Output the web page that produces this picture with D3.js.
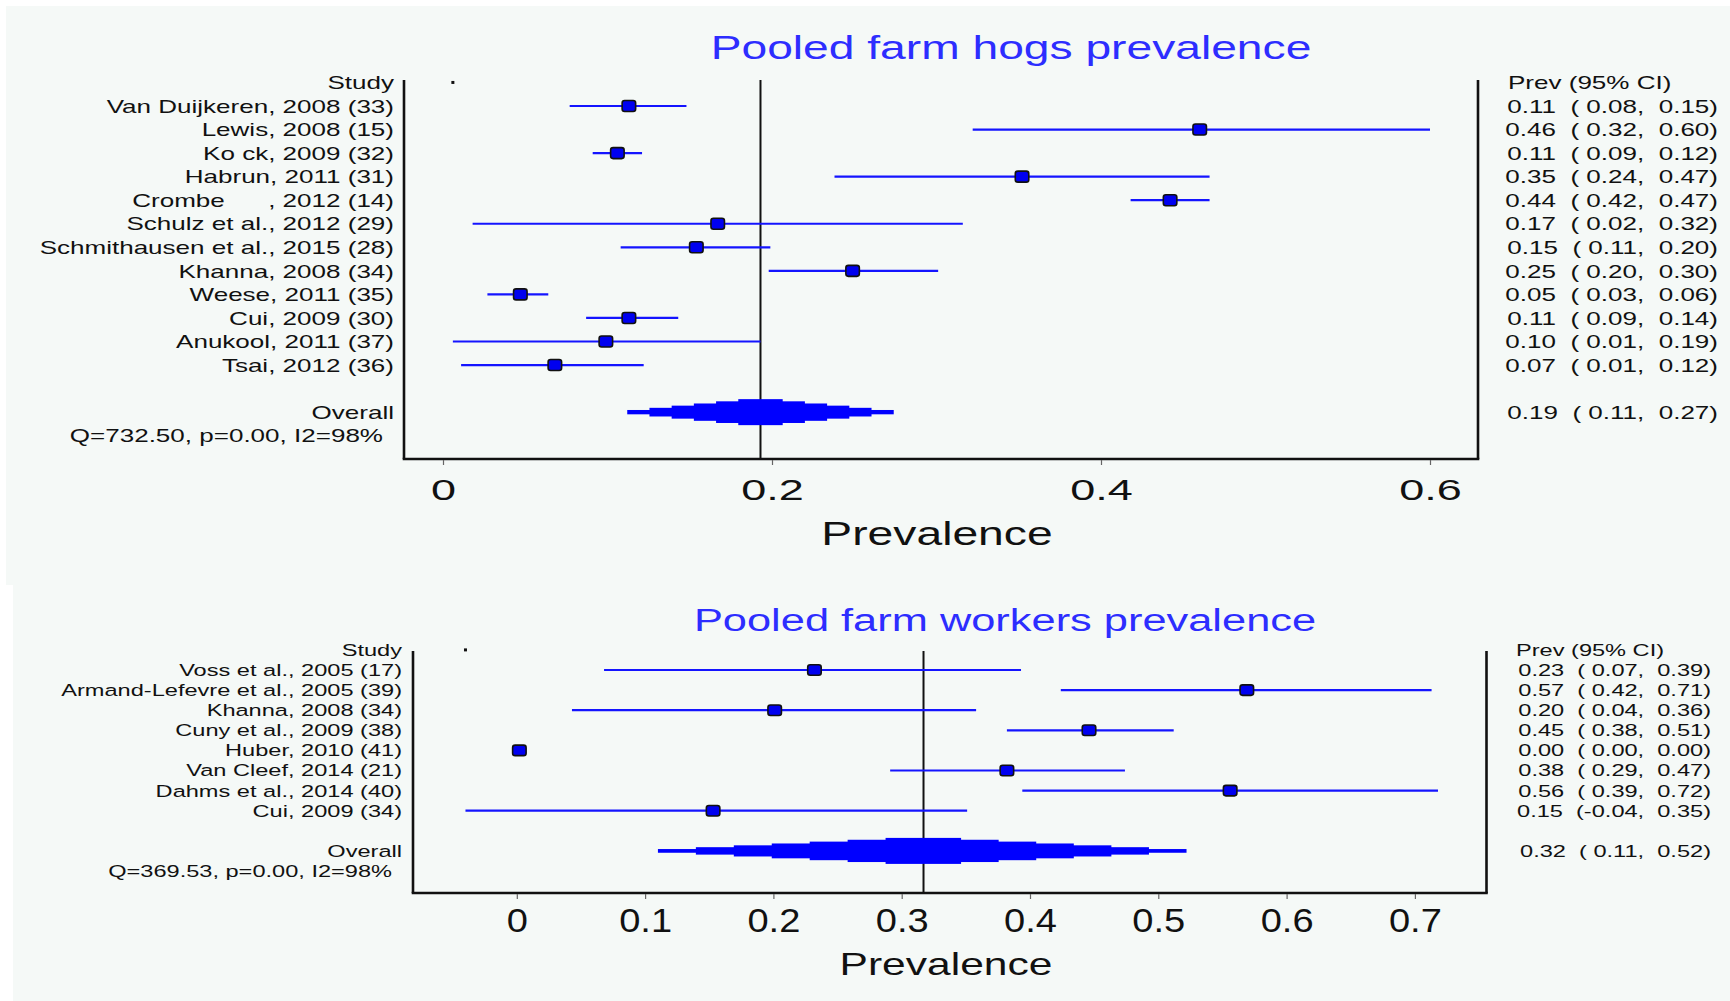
<!DOCTYPE html>
<html><head><meta charset="utf-8">
<script src="https://cdn.jsdelivr.net/npm/d3@7"></script>
<style>
html,body{margin:0;padding:0;background:#ffffff;}
svg{display:block;}
text{font-family:"Liberation Sans", Arial, Helvetica, sans-serif; white-space:pre;}
</style></head><body>
<svg id="chart" width="1730" height="1001"></svg>
<script>
// ---------------- DATA ----------------
const hogTitle = "Pooled farm hogs prevalence";
const hogStudies = ["Van Duijkeren, 2008 (33)", "Lewis, 2008 (15)", "Ko ck, 2009 (32)", "Habrun, 2011 (31)",
  "Crombe      , 2012 (14)", "Schulz et al., 2012 (29)", "Schmithausen et al., 2015 (28)", "Khanna, 2008 (34)",
  "Weese, 2011 (35)", "Cui, 2009 (30)", "Anukool, 2011 (37)", "Tsai, 2012 (36)"];
const hogPrev  = [0.113, 0.460, 0.106, 0.352, 0.442, 0.167, 0.154, 0.249, 0.047, 0.113, 0.099, 0.068];
const hogLower = [0.077, 0.322, 0.091, 0.238, 0.418, 0.018, 0.108, 0.198, 0.027, 0.087, 0.006, 0.011];
const hogUpper = [0.148, 0.600, 0.121, 0.466, 0.466, 0.316, 0.199, 0.301, 0.064, 0.143, 0.193, 0.122];
const hogOverall = [0.193, 0.112, 0.274];           // estimate, lower, upper
const hogStats = "Q=732.50, p=0.00, I2=98%";
const hogTicks = [0, 0.2, 0.4, 0.6];

const workerTitle = "Pooled farm workers prevalence";
const workerStudies = ["Voss et al., 2005 (17)", "Armand-Lefevre et al., 2005 (39)", "Khanna, 2008 (34)",
  "Cuny et al., 2009 (38)", "Huber, 2010 (41)", "Van Cleef, 2014 (21)", "Dahms et al., 2014 (40)", "Cui, 2009 (34)"];
const workerPrev  = [0.232, 0.569, 0.201, 0.446, 0.002, 0.382, 0.556, 0.153];
const workerLower = [0.068, 0.424, 0.043, 0.382, 0.000, 0.291, 0.394, -0.040];
const workerUpper = [0.393, 0.713, 0.358, 0.512, 0.000, 0.474, 0.718, 0.351];
const workerOverall = [0.317, 0.110, 0.522];
const workerStats = "Q=369.53, p=0.00, I2=98%";
const workerTicks = [0, 0.1, 0.2, 0.3, 0.4, 0.5, 0.6, 0.7];

const axisLabel = "Prevalence";
const studyHeader = "Study";
const prevHeader = "Prev (95% CI)";
const overallLabel = "Overall";

// ---------------- LAYOUT ----------------
const panels = [
  { bg:[6,6,1724,579], title:hogTitle, studies:hogStudies, prev:hogPrev, lo:hogLower, hi:hogUpper,
    overall:hogOverall, stats:hogStats, ticks:hogTicks, domain:[0,0.6], range:[443,1430],
    boxL:404, boxR:1478, boxT:80, boxB:459, row0:106, step:23.55, overallRow:13, statRow:14,
    labelX:394, statX:383, numX:1718, headX:1508, fs:18.6, sx:1.4,
    tt:{x:1011,y:59,fs:33,sx:1.4}, tick:{y:500,fs:30,sx:1.5}, at:{x:937,y:545,fs:34,sx:1.36},
    dh:13, steps:6, sq:[13.5,11] },
  { bg:[13,585,1717,416], title:workerTitle, studies:workerStudies, prev:workerPrev, lo:workerLower, hi:workerUpper,
    overall:workerOverall, stats:workerStats, ticks:workerTicks, domain:[0,0.7], range:[516.8,1414.9],
    boxL:413, boxR:1486.5, boxT:651, boxB:893, row0:670, step:20.1, overallRow:9, statRow:10,
    labelX:402, statX:392, numX:1711, headX:1516, fs:16.5, sx:1.43,
    tt:{x:1005,y:631,fs:31,sx:1.4}, tick:{y:932,fs:34,sx:1.12}, at:{x:946,y:975,fs:32,sx:1.33},
    dh:13, steps:7, sq:[13.5,10.5] }
];

const svg = d3.select("#chart");
const loc = d3.formatLocale({decimal:".", thousands:",", grouping:[3], currency:["",""], minus:"-"});
const f2 = loc.format(".2f");
const fmtLo = v => (v < 0 ? "" : " ") + f2(v);
const ciText = (e,l,h) => `${f2(e)}  (${fmtLo(l)},  ${f2(h)})`;

function stext(g, x, y, str, fs, sx, anchor, fill){
  return g.append("text")
    .attr("transform", `translate(${x},${y}) scale(${sx},1)`)
    .attr("text-anchor", anchor)
    .attr("font-size", fs)
    .attr("fill", fill || "#111")
    .text(str);
}

const BLUE = "#1414ff";

panels.forEach(p => {
  const g = svg.append("g");
  g.append("rect").attr("x",p.bg[0]).attr("y",p.bg[1]).attr("width",p.bg[2]).attr("height",p.bg[3])
    .attr("fill","#f5f9f7");

  const x = d3.scaleLinear().domain(p.domain).range(p.range);
  const yRow = i => p.row0 + i * p.step;
  const base = p.fs * 0.36;

  // title
  stext(g, p.tt.x, p.tt.y, p.title, p.tt.fs, p.tt.sx, "middle", "#2d2dff");

  // box lines
  g.append("line").attr("x1",p.boxL).attr("x2",p.boxL).attr("y1",p.boxT).attr("y2",p.boxB)
    .attr("stroke","#111").attr("stroke-width",2.6);
  g.append("line").attr("x1",p.boxR).attr("x2",p.boxR).attr("y1",p.boxT).attr("y2",p.boxB)
    .attr("stroke","#111").attr("stroke-width",2.6);
  g.append("line").attr("x1",p.boxL-1.3).attr("x2",p.boxR+1.3).attr("y1",p.boxB).attr("y2",p.boxB)
    .attr("stroke","#111").attr("stroke-width",2.6);

  // axis ticks + labels
  const ax = g.append("g").attr("transform",`translate(0,${p.boxB+1})`)
    .call(d3.axisBottom(x).tickValues(p.ticks).tickSize(5).tickSizeOuter(0)
      .tickFormat(d => d === 0 ? "0" : loc.format(".1f")(d)));
  ax.select(".domain").remove();
  ax.selectAll(".tick line").attr("stroke","#666").attr("stroke-width",1.2);
  ax.selectAll(".tick text")
    .attr("y", p.tick.y - p.boxB - 1).attr("dy", null)
    .attr("transform", `scale(${p.tick.sx},1)`)
    .attr("font-size", p.tick.fs).attr("fill","#111")
    .style("font-family", '"Liberation Sans", Arial, sans-serif');
  stext(g, p.at.x, p.at.y, axisLabel, p.at.fs, p.at.sx, "middle");

  // reference line at overall estimate
  g.append("line").attr("x1",x(p.overall[0])).attr("x2",x(p.overall[0]))
    .attr("y1",p.boxT).attr("y2",p.boxB).attr("stroke","#111").attr("stroke-width",2);

  // small header dot at the minimum lower bound
  g.append("rect").attr("x", x(d3.min(p.lo)) - 1.5).attr("y", yRow(-1) - 1.5)
    .attr("width",3).attr("height",3).attr("fill","#111");

  // CI lines
  const idx = d3.range(p.studies.length);
  g.selectAll(".ci").data(idx).join("line")
    .attr("x1", i => x(p.lo[i])).attr("x2", i => x(p.hi[i]))
    .attr("y1", i => yRow(i)).attr("y2", i => yRow(i))
    .attr("stroke", BLUE).attr("stroke-width", 2.2);
  // squares
  g.selectAll(".sq").data(idx).join("rect")
    .attr("x", i => x(p.prev[i]) - p.sq[0]/2).attr("y", i => yRow(i) - p.sq[1]/2)
    .attr("width", p.sq[0]).attr("height", p.sq[1]).attr("rx", 2.5)
    .attr("fill", "#0000f0").attr("stroke", "#111").attr("stroke-width", 1.6);

  // stepped diamond for pooled estimate
  const cx = x(p.overall[0]), xl = x(p.overall[1]), xr = x(p.overall[2]), cy = yRow(p.overallRow);
  const wl = cx - xl, wr = xr - cx;
  const steps = d3.range(p.steps);
  g.selectAll(".dm").data(steps).join("rect")
    .attr("x", k => cx - wl * (1 - k / p.steps))
    .attr("width", k => (wl + wr) * (1 - k / p.steps))
    .attr("y", k => cy - (k + 1) * p.dh / p.steps)
    .attr("height", k => 2 * (k + 1) * p.dh / p.steps)
    .attr("fill", "#0000ff");

  // left labels
  stext(g, p.labelX, yRow(-1) + base, studyHeader, p.fs, p.sx, "end");
  idx.forEach(i => stext(g, p.labelX, yRow(i) + base, p.studies[i], p.fs, p.sx, "end"));
  stext(g, p.labelX, yRow(p.overallRow) + base, overallLabel, p.fs, p.sx, "end");
  stext(g, p.statX, yRow(p.statRow) + base, p.stats, p.fs, p.sx, "end");

  // right column
  stext(g, p.headX, yRow(-1) + base, prevHeader, p.fs, p.sx, "start");
  idx.forEach(i => stext(g, p.numX, yRow(i) + base, ciText(p.prev[i], p.lo[i], p.hi[i]), p.fs, p.sx, "end"));
  stext(g, p.numX, yRow(p.overallRow) + base, ciText(p.overall[0], p.overall[1], p.overall[2]), p.fs, p.sx, "end");
});
</script>
</body></html>
